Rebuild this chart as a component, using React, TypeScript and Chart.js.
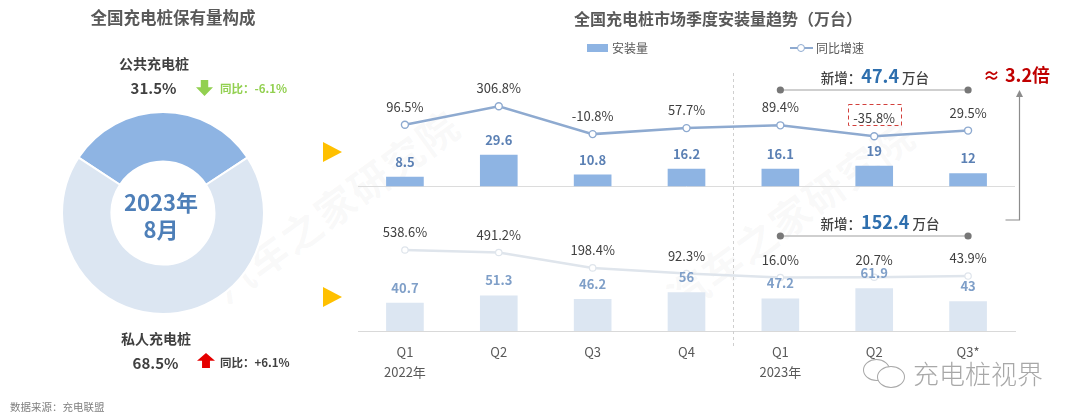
import React, { useEffect, useRef } from 'react';
import { Chart, registerables } from 'chart.js';

Chart.register(...registerables);

// ---------- data ----------
const quarterLabels = [['Q1', '2022年'], ['Q2'], ['Q3'], ['Q4'], ['Q1', '2023年'], ['Q2'], ['Q3*']];
const publicInstalls = [8.5, 29.6, 10.8, 16.2, 16.1, 19, 12];
const publicGrowth = [96.5, 306.8, -10.8, 57.7, 89.4, -35.8, 29.5];
const privateInstalls = [40.7, 51.3, 46.2, 56, 47.2, 61.9, 43];
const privateGrowth = [538.6, 491.2, 198.4, 92.3, 16.0, 20.7, 43.9];
const seriesNames = ['安装量', '同比增速'];
const shareNames = ['公共充电桩', '私人充电桩'];
const shareValues = [31.5, 68.5];
const shareChange = ['-6.1%', '+6.1%'];
const addedTotals = ['47.4', '152.4'];
const ratioText = '3.2倍';
const highlightIndex = 5;

const FONT = '"Noto Sans CJK SC", "Noto Sans", sans-serif';

type TProps = { x: number; y: number; align?: 'center' | 'left'; style?: React.CSSProperties; children: React.ReactNode };
function T({ x, y, align = 'center', style, children }: TProps) {
  return (
    <div
      style={{
        position: 'absolute',
        left: x,
        top: y,
        transform: align === 'center' ? 'translate(-50%, -50%)' : 'translate(0, -50%)',
        whiteSpace: 'nowrap',
        lineHeight: 1,
        fontFamily: FONT,
        ...style,
      }}
    >
      {children}
    </div>
  );
}

export default function App() {
  const mainRef = useRef<HTMLCanvasElement>(null);
  const donutRef = useRef<HTMLCanvasElement>(null);

  useEffect(() => {
    const overlay = {
      id: 'overlay',
      beforeDatasetsDraw(chart: any) {
        const ctx = chart.ctx;
        const { left, right, top, bottom } = chart.chartArea;
        const xs = chart.scales.x;
        const base = chart.scales.yTB.getPixelForValue(0);
        ctx.save();
        ctx.strokeStyle = '#dcdcdc';
        ctx.lineWidth = 1;
        ctx.beginPath();
        ctx.moveTo(left, base + 0.5);
        ctx.lineTo(right, base + 0.5);
        ctx.stroke();
        // divider between years
        const dx = Math.round((xs.getPixelForValue(3) + xs.getPixelForValue(4)) / 2) + 0.5;
        ctx.setLineDash([3, 3]);
        ctx.strokeStyle = '#cfcfcf';
        ctx.beginPath();
        ctx.moveTo(dx, top + 13);
        ctx.lineTo(dx, bottom + 16);
        ctx.stroke();
        ctx.restore();
      },
      afterDatasetsDraw(chart: any) {
        const ctx = chart.ctx;
        const { right, top, bottom } = chart.chartArea;
        const xs = chart.scales.x;
        ctx.save();
        ctx.textAlign = 'center';
        ctx.textBaseline = 'middle';
        const drawLabels = (dsIndex: number, values: number[], off: number, font: string, color: string, fmt: (v: number) => string) => {
          const meta = chart.getDatasetMeta(dsIndex);
          ctx.font = font;
          ctx.fillStyle = color;
          meta.data.forEach((el: any, i: number) => {
            ctx.fillText(fmt(values[i]), el.x, el.y - off);
          });
        };
        drawLabels(0, publicInstalls, 15, `bold 13px ${FONT}`, '#5b80b4', (v) => String(v));
        drawLabels(1, privateInstalls, 15.5, `bold 13px ${FONT}`, '#7f9fc8', (v) => String(v));
        drawLabels(2, publicGrowth, 18, `13px ${FONT}`, '#404040', (v) => v.toFixed(1) + '%');
        drawLabels(3, privateGrowth, 17.5, `13px ${FONT}`, '#404040', (v) => v.toFixed(1) + '%');

        // highlight box
        const hp = chart.getDatasetMeta(2).data[highlightIndex];
        ctx.strokeStyle = '#d2403c';
        ctx.lineWidth = 1;
        ctx.setLineDash([4, 3]);
        ctx.strokeRect(Math.round(hp.x - 26) + 0.5, Math.round(hp.y - 32) + 0.5, 53, 21);
        ctx.setLineDash([]);

        // brackets
        const x0 = xs.getPixelForValue(4);
        const x1 = xs.getPixelForValue(6);
        [top + 30, bottom - 95].forEach((by) => {
          ctx.strokeStyle = '#a0a0a0';
          ctx.lineWidth = 1.2;
          ctx.beginPath();
          ctx.moveTo(x0, by);
          ctx.lineTo(x1, by);
          ctx.stroke();
          ctx.fillStyle = '#777777';
          [x0, x1].forEach((px) => {
            ctx.beginPath();
            ctx.arc(px, by, 3.6, 0, Math.PI * 2);
            ctx.fill();
          });
        });

        // arrow
        const ax = right + 4.5;
        const tipY = top + 30;
        const endY = bottom - 111;
        ctx.strokeStyle = '#8c8c8c';
        ctx.lineWidth = 1.2;
        ctx.beginPath();
        ctx.moveTo(ax, tipY + 6);
        ctx.lineTo(ax, endY);
        ctx.lineTo(ax - 14, endY);
        ctx.stroke();
        ctx.fillStyle = '#8c8c8c';
        ctx.beginPath();
        ctx.moveTo(ax, tipY);
        ctx.lineTo(ax + 3.5, tipY + 7);
        ctx.lineTo(ax - 3.5, tipY + 7);
        ctx.closePath();
        ctx.fill();
        ctx.restore();
      },
    };

    const main = new Chart(mainRef.current!, {
      type: 'bar',
      data: {
        labels: quarterLabels as any,
        datasets: [
          {
            type: 'bar',
            label: seriesNames[0],
            data: publicInstalls,
            yAxisID: 'yTB',
            backgroundColor: '#8eb4e3',
            barThickness: 37,
            grouped: false,
            order: 2,
          },
          {
            type: 'bar',
            label: seriesNames[0],
            data: privateInstalls,
            yAxisID: 'yBB',
            backgroundColor: '#dce6f2',
            barThickness: 37,
            grouped: false,
            order: 2,
          },
          {
            type: 'line',
            label: seriesNames[1],
            data: publicGrowth,
            yAxisID: 'yTL',
            borderColor: '#8eaad0',
            borderWidth: 2.5,
            pointRadius: 3.5,
            pointBorderWidth: 1.4,
            pointBackgroundColor: '#ffffff',
            pointBorderColor: '#8eaad0',
            tension: 0,
            order: 1,
          },
          {
            type: 'line',
            label: seriesNames[1],
            data: privateGrowth,
            yAxisID: 'yBL',
            borderColor: '#dfe5ec',
            borderWidth: 2.5,
            pointRadius: 3.2,
            pointBorderWidth: 1.2,
            pointBackgroundColor: '#ffffff',
            pointBorderColor: '#dfe5ec',
            tension: 0,
            order: 1,
          },
        ] as any,
      },
      options: {
        animation: false,
        responsive: false,
        layout: { padding: { left: 358, right: 65, top: 60, bottom: 0 } },
        plugins: { legend: { display: false }, tooltip: { enabled: false } },
        scales: {
          x: {
            grid: { display: false, drawTicks: false },
            border: { display: true, color: '#d9d9d9' },
            ticks: {
              color: '#595959',
              font: { family: FONT, size: 13, lineHeight: '20px' as any },
              padding: 11,
              maxRotation: 0,
              autoSkip: false,
            },
            afterFit: (s: any) => {
              s.height = 89;
            },
          } as any,
          yTB: { display: false, min: -138.8, max: 120.6 },
          yTL: { display: false, min: -2259, max: 835.5 },
          yBB: { display: false, min: 0, max: 396.2 },
          yBL: { display: false, min: -999.6, max: 4146.6 },
        },
      },
      plugins: [overlay],
    });

    const donut = new Chart(donutRef.current!, {
      type: 'doughnut',
      data: {
        labels: shareNames,
        datasets: [
          {
            data: shareValues,
            backgroundColor: ['#8eb4e3', '#dce6f2'],
            borderColor: '#ffffff',
            borderWidth: 2,
          },
        ],
      },
      options: {
        animation: false,
        responsive: false,
        cutout: '51%',
        rotation: -(shareValues[0] / (shareValues[0] + shareValues[1])) * 180,
        plugins: { legend: { display: false }, tooltip: { enabled: false } },
      },
    });

    return () => {
      main.destroy();
      donut.destroy();
    };
  }, []);

  const grey = '#404040';
  const wm: React.CSSProperties = { color: 'rgba(170,170,170,0.07)', fontSize: 40, fontWeight: 700, letterSpacing: 2 };

  return (
    <div style={{ position: 'fixed', left: 0, top: 0, width: 1080, height: 420, background: '#ffffff', overflow: 'hidden', fontFamily: FONT }}>
      {/* watermarks */}
      <T x={335} y={205} style={{ ...wm, transform: 'translate(-50%,-50%) rotate(-36deg)' }}>汽车之家研究院</T>
      <T x={790} y={215} style={{ ...wm, transform: 'translate(-50%,-50%) rotate(-36deg)' }}>汽车之家研究院</T>

      <canvas ref={mainRef} width={1080} height={420} style={{ position: 'absolute', left: 0, top: 0, width: 1080, height: 420 }} />
      <canvas ref={donutRef} width={204} height={204} style={{ position: 'absolute', left: 61, top: 111, width: 204, height: 204 }} />

      {/* left panel */}
      <T x={173} y={17} style={{ fontSize: 16.5, fontWeight: 700, color: '#595959' }}>全国充电桩保有量构成</T>
      <T x={154} y={63} style={{ fontSize: 14, fontWeight: 700, color: grey }}>{shareNames[0]}</T>
      <T x={153.5} y={87} style={{ fontSize: 15, fontWeight: 700, color: grey }}>{shareValues[0]}%</T>
      <div style={{ position: 'absolute', left: 196, top: 80, width: 17, height: 16, background: '#92d050', clipPath: 'polygon(28% 0, 72% 0, 72% 45%, 100% 45%, 50% 100%, 0 45%, 28% 45%)' }} />
      <T x={220} y={89} align="left" style={{ fontSize: 11.5, fontWeight: 700, color: '#92d050' }}>同比：{shareChange[0]}</T>

      <T x={161} y={201} style={{ fontSize: 22, fontWeight: 700, color: '#4e7fb8' }}>2023年</T>
      <T x={161} y={228} style={{ fontSize: 22, fontWeight: 700, color: '#4e7fb8' }}>8月</T>

      <T x={156} y={338} style={{ fontSize: 14, fontWeight: 700, color: grey }}>{shareNames[1]}</T>
      <T x={155.5} y={362} style={{ fontSize: 15, fontWeight: 700, color: grey }}>{shareValues[1]}%</T>
      <div style={{ position: 'absolute', left: 197, top: 353, width: 18, height: 15, background: '#e50000', clipPath: 'polygon(50% 0, 100% 52%, 72% 52%, 72% 100%, 28% 100%, 28% 52%, 0 52%)' }} />
      <T x={220} y={363} align="left" style={{ fontSize: 11.5, fontWeight: 700, color: grey }}>同比：{shareChange[1]}</T>

      <T x={10} y={407} align="left" style={{ fontSize: 10.5, color: '#7f7f7f' }}>数据来源：充电联盟</T>

      {/* right panel */}
      <T x={718} y={18} style={{ fontSize: 16, fontWeight: 700, color: '#595959' }}>全国充电桩市场季度安装量趋势（万台）</T>
      <div style={{ position: 'absolute', left: 587, top: 44, width: 21, height: 8, background: '#8eb4e3' }} />
      <T x={612} y={48} align="left" style={{ fontSize: 12, color: '#595959' }}>{seriesNames[0]}</T>
      <div style={{ position: 'absolute', left: 790, top: 47, width: 23, height: 2, background: '#8eaad0' }} />
      <div style={{ position: 'absolute', left: 797, top: 44, width: 6, height: 6, borderRadius: '50%', background: '#fff', border: '1.3px solid #8eaad0' }} />
      <T x={816} y={48} align="left" style={{ fontSize: 12, color: '#595959' }}>{seriesNames[1]}</T>

      <T x={875} y={75} style={{ fontSize: 13.5, color: grey, fontWeight: 500 }}>
        新增：<span style={{ fontSize: 18, fontWeight: 700, color: '#2e6fae' }}>{addedTotals[0]}</span> 万台
      </T>
      <T x={880} y={221} style={{ fontSize: 13.5, color: grey, fontWeight: 500 }}>
        新增：<span style={{ fontSize: 18, fontWeight: 700, color: '#2e6fae' }}>{addedTotals[1]}</span> 万台
      </T>
      <T x={983} y={74} align="left" style={{ fontSize: 17, fontWeight: 700, color: '#c00000' }}>≈</T>
      <T x={1005} y={74} align="left" style={{ fontSize: 18, fontWeight: 700, color: '#c00000' }}>{ratioText}</T>

      <div style={{ position: 'absolute', left: 323, top: 142, width: 0, height: 0, borderTop: '10px solid transparent', borderBottom: '10px solid transparent', borderLeft: '19px solid #ffc000' }} />
      <div style={{ position: 'absolute', left: 323, top: 287, width: 0, height: 0, borderTop: '10px solid transparent', borderBottom: '10px solid transparent', borderLeft: '19px solid #ffc000' }} />

      {/* bottom-right badge */}
      <div style={{ position: 'absolute', left: 863, top: 359, width: 25, height: 20, borderRadius: '50%', border: '1.5px solid #a8a8a8', background: '#fff' }} />
      <div style={{ position: 'absolute', left: 877, top: 366, width: 26, height: 20, borderRadius: '50%', border: '1.5px solid #a8a8a8', background: '#fff' }} />
      <T x={913} y={373} align="left" style={{ fontSize: 26, color: '#a8a8a8', fontWeight: 300 }}>充电桩视界</T>
    </div>
  );
}
